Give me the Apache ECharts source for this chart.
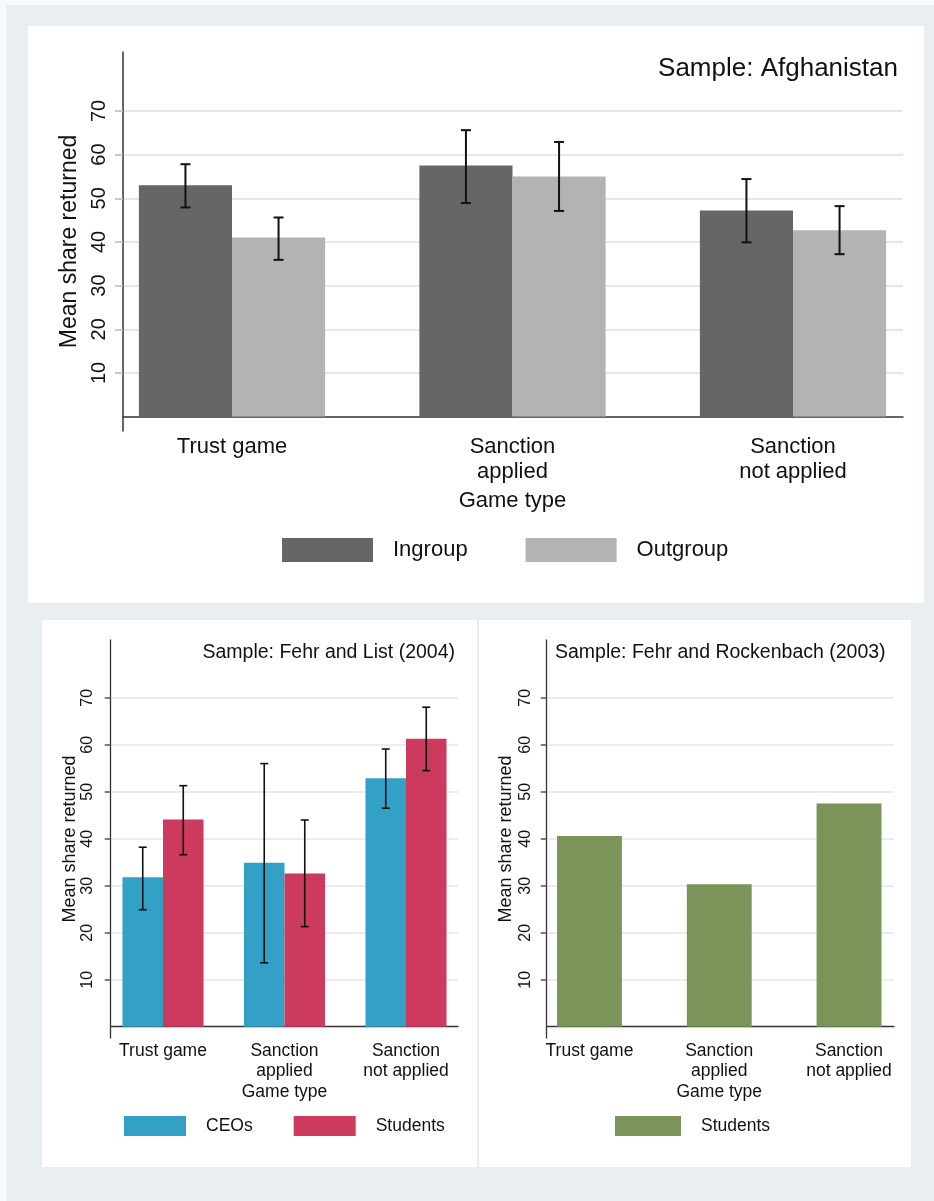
<!DOCTYPE html>
<html>
<head>
<meta charset="utf-8">
<script src="https://cdn.jsdelivr.net/npm/echarts@6/dist/echarts.min.js"></script>
<style>
html,body{margin:0;padding:0;background:#e9eff1;}
#chart{width:934px;height:1201px;}
</style>
</head>
<body>
<div id="chart"></div>
<script>
// ---------- data ----------
const categories = ['Trust game', 'Sanction\napplied', 'Sanction\nnot applied'];
const yTicks = [10, 20, 30, 40, 50, 60, 70];

// Afghanistan
const afgIngroup = [53.0, 57.5, 47.2];
const afgIngroupLo = [47.9, 48.9, 39.9];
const afgIngroupHi = [57.8, 65.6, 54.4];
const afgOutgroup = [41.0, 55.0, 42.7];
const afgOutgroupLo = [35.9, 47.1, 37.2];
const afgOutgroupHi = [45.6, 62.9, 48.2];

// Fehr and List (2004)
const flCEOs = [31.8, 34.9, 52.9];
const flCEOsLo = [24.9, 13.6, 46.5];
const flCEOsHi = [38.2, 56.0, 59.1];
const flStudents = [44.1, 32.6, 61.3];
const flStudentsLo = [36.6, 21.3, 54.5];
const flStudentsHi = [51.3, 44.0, 68.0];

// Fehr and Rockenbach (2003)
const frStudents = [40.6, 30.3, 47.5];

// ---------- styling ----------
const FONT = 'Liberation Sans, Arial, Helvetica, sans-serif';
const C_IN = '#666666', C_OUT = '#b3b3b3', C_CEO = '#33a0c6', C_STU = '#cc3a5e', C_GRN = '#7a945a';

const TOP = {top: 52, height: 379, min: -3.3, max: 83.5};
const BOT = {top: 640, height: 398, min: -2.4, max: 82.3};

const grids = [
  {left: 123, top: TOP.top, width: 780, height: TOP.height},        // 0 top frame
  {left: 91.75, top: TOP.top, width: 841.5, height: TOP.height},    // 1 top bars
  {left: 110.7, top: BOT.top, width: 347.3, height: BOT.height},    // 2 bl frame
  {left: 102.25, top: BOT.top, width: 364.5, height: BOT.height},   // 3 bl bars
  {left: 546.7, top: BOT.top, width: 347.3, height: BOT.height},    // 4 br frame
  {left: 524.6, top: BOT.top, width: 389.3, height: BOT.height}     // 5 br bars
];

function frameX(gi, lw) {
  return {type: 'value', gridIndex: gi, min: 0, max: 1,
    axisLine: {show: true, lineStyle: {color: '#333', width: lw}},
    axisTick: {show: false}, axisLabel: {show: false}, splitLine: {show: false}};
}
function barsX(gi, fs, lh, margin, nameGap) {
  return {type: 'category', gridIndex: gi, data: categories,
    axisLine: {show: false}, axisTick: {show: false},
    axisLabel: {color: '#111', fontFamily: FONT, fontSize: fs, lineHeight: lh, margin: margin, interval: 0},
    name: 'Game type', nameLocation: 'middle', nameGap: nameGap,
    nameTextStyle: {color: '#111', fontFamily: FONT, fontSize: fs, lineHeight: lh},
    splitLine: {show: false}};
}
function frameY(gi, R, fs, nameFs, nameGap, margin, tickColor, tickLen, gridW, lw) {
  return {type: 'value', gridIndex: gi, min: R.min, max: R.max,
    axisLine: {show: true, lineStyle: {color: '#333', width: lw}},
    axisTick: {show: true, customValues: yTicks, length: tickLen, lineStyle: {color: tickColor, width: 1.5}},
    axisLabel: {customValues: yTicks, rotate: 90, margin: margin, color: '#111', fontFamily: FONT, fontSize: fs},
    splitLine: {show: true, lineStyle: {color: '#e6e6e6', width: gridW}},
    name: 'Mean share returned', nameLocation: 'middle', nameRotate: 90, nameGap: nameGap,
    nameTextStyle: {color: '#111', fontFamily: FONT, fontSize: nameFs}};
}
function barsY(gi, R) {
  return {type: 'value', gridIndex: gi, min: R.min, max: R.max, show: false, splitLine: {show: false}};
}

function barSeries(name, axisIdx, data, color, gapPct) {
  return {type: 'bar', name: name, xAxisIndex: axisIdx, yAxisIndex: axisIdx, data: data,
    barGap: '0%', barCategoryGap: gapPct + '%', itemStyle: {color: color},
    emphasis: {disabled: true}, silent: true};
}
function errSeries(axisIdx, lo, hi, slot, nSlots, gapPct, capW, lw) {
  const data = lo.map((v, i) => [i, v, hi[i]]);
  return {type: 'custom', xAxisIndex: axisIdx, yAxisIndex: axisIdx, data: data, silent: true, z: 5,
    encode: {x: 0, y: [1, 2]},
    renderItem: function (params, api) {
      const idx = api.value(0), l = api.value(1), h = api.value(2);
      const band = api.size([1, 0])[0];
      const barW = band * (1 - gapPct / 100) / nSlots;
      const pl = api.coord([idx, l]), ph = api.coord([idx, h]);
      const cx = pl[0] - barW * nSlots / 2 + barW * (slot + 0.5);
      const st = {stroke: '#111', lineWidth: lw};
      return {type: 'group', children: [
        {type: 'line', shape: {x1: cx, y1: pl[1], x2: cx, y2: ph[1]}, style: st},
        {type: 'line', shape: {x1: cx - capW / 2, y1: pl[1], x2: cx + capW / 2, y2: pl[1]}, style: st},
        {type: 'line', shape: {x1: cx - capW / 2, y1: ph[1], x2: cx + capW / 2, y2: ph[1]}, style: st}
      ]};
    }};
}

const option = {
  backgroundColor: '#e9eff1',
  animation: false,
  graphic: [
    {type: 'rect', shape: {x: 0, y: 0, width: 6, height: 1201}, style: {fill: '#f7f9fa'}, z: -10, silent: true},
    {type: 'rect', shape: {x: 0, y: 0, width: 934, height: 5}, style: {fill: '#f7f9fa'}, z: -10, silent: true},
    {type: 'rect', shape: {x: 28, y: 26, width: 896, height: 577}, style: {fill: '#ffffff'}, z: -10, silent: true},
    {type: 'rect', shape: {x: 42, y: 620, width: 436, height: 547}, style: {fill: '#ffffff'}, z: -10, silent: true},
    {type: 'rect', shape: {x: 479, y: 620, width: 432, height: 547}, style: {fill: '#ffffff'}, z: -10, silent: true},
    {type: 'line', shape: {x1: 478, y1: 620, x2: 478, y2: 1167}, style: {stroke: '#e3e8ea', lineWidth: 1.5}, z: -9, silent: true}
  ],
  title: [
    {text: 'Sample: Afghanistan', right: 36, top: 56, padding: 0, textStyle: {fontFamily: FONT, fontSize: 26, fontWeight: 'normal', color: '#111'}},
    {text: 'Sample: Fehr and List (2004)', right: 479, top: 643, padding: 0, textStyle: {fontFamily: FONT, fontSize: 19.5, fontWeight: 'normal', color: '#111'}},
    {text: 'Sample: Fehr and Rockenbach (2003)', left: 555, top: 643, padding: 0, textStyle: {fontFamily: FONT, fontSize: 19.5, fontWeight: 'normal', color: '#111'}}
  ],
  legend: [
    {data: ['Ingroup', 'Outgroup'], left: 282, top: 538, padding: 0, itemWidth: 91, itemHeight: 24, itemGap: 58,
      icon: 'rect', selectedMode: false, textStyle: {fontFamily: FONT, fontSize: 22, color: '#111', padding: [0, 0, 0, 15]}},
    {data: ['CEOs', 'Students'], left: 124, top: 1116, padding: 0, itemWidth: 62, itemHeight: 20, itemGap: 41,
      icon: 'rect', selectedMode: false, textStyle: {fontFamily: FONT, fontSize: 17.5, color: '#111', padding: [0, 0, 0, 15]}},
    {data: ['Students (FR)'], left: 615, top: 1116, padding: 0, itemWidth: 66, itemHeight: 20,
      icon: 'rect', selectedMode: false, formatter: function () { return 'Students'; },
      textStyle: {fontFamily: FONT, fontSize: 17.5, color: '#111', padding: [0, 0, 0, 15]}}
  ],
  grid: grids,
  xAxis: [
    frameX(0, 1.5), barsX(1, 22, 25, 3.5, 57),
    frameX(2, 1.3), barsX(3, 17.5, 20, 3, 43),
    frameX(4, 1.3), barsX(5, 17.5, 20, 3, 43)
  ],
  yAxis: [
    frameY(0, TOP, 20, 23, 41, 14, '#bbbbbb', 8, 2, 1.5), barsY(1, TOP),
    frameY(2, BOT, 16, 18, 29, 15, '#555555', 6, 1.5, 1.3), barsY(3, BOT),
    frameY(4, BOT, 16, 18, 32, 13.5, '#555555', 6, 1.5, 1.3), barsY(5, BOT)
  ],
  series: [
    barSeries('Ingroup', 1, afgIngroup, C_IN, 33.6),
    barSeries('Outgroup', 1, afgOutgroup, C_OUT, 33.6),
    errSeries(1, afgIngroupLo, afgIngroupHi, 0, 2, 33.6, 10, 2),
    errSeries(1, afgOutgroupLo, afgOutgroupHi, 1, 2, 33.6, 10, 2),
    barSeries('CEOs', 3, flCEOs, C_CEO, 33.3),
    barSeries('Students', 3, flStudents, C_STU, 33.3),
    errSeries(3, flCEOsLo, flCEOsHi, 0, 2, 33.3, 8, 1.6),
    errSeries(3, flStudentsLo, flStudentsHi, 1, 2, 33.3, 8, 1.6),
    barSeries('Students (FR)', 5, frStudents, C_GRN, 50)
  ]
};

const chart = echarts.init(document.getElementById('chart'), null, {renderer: 'canvas'});
chart.setOption(option);
</script>
</body>
</html>
